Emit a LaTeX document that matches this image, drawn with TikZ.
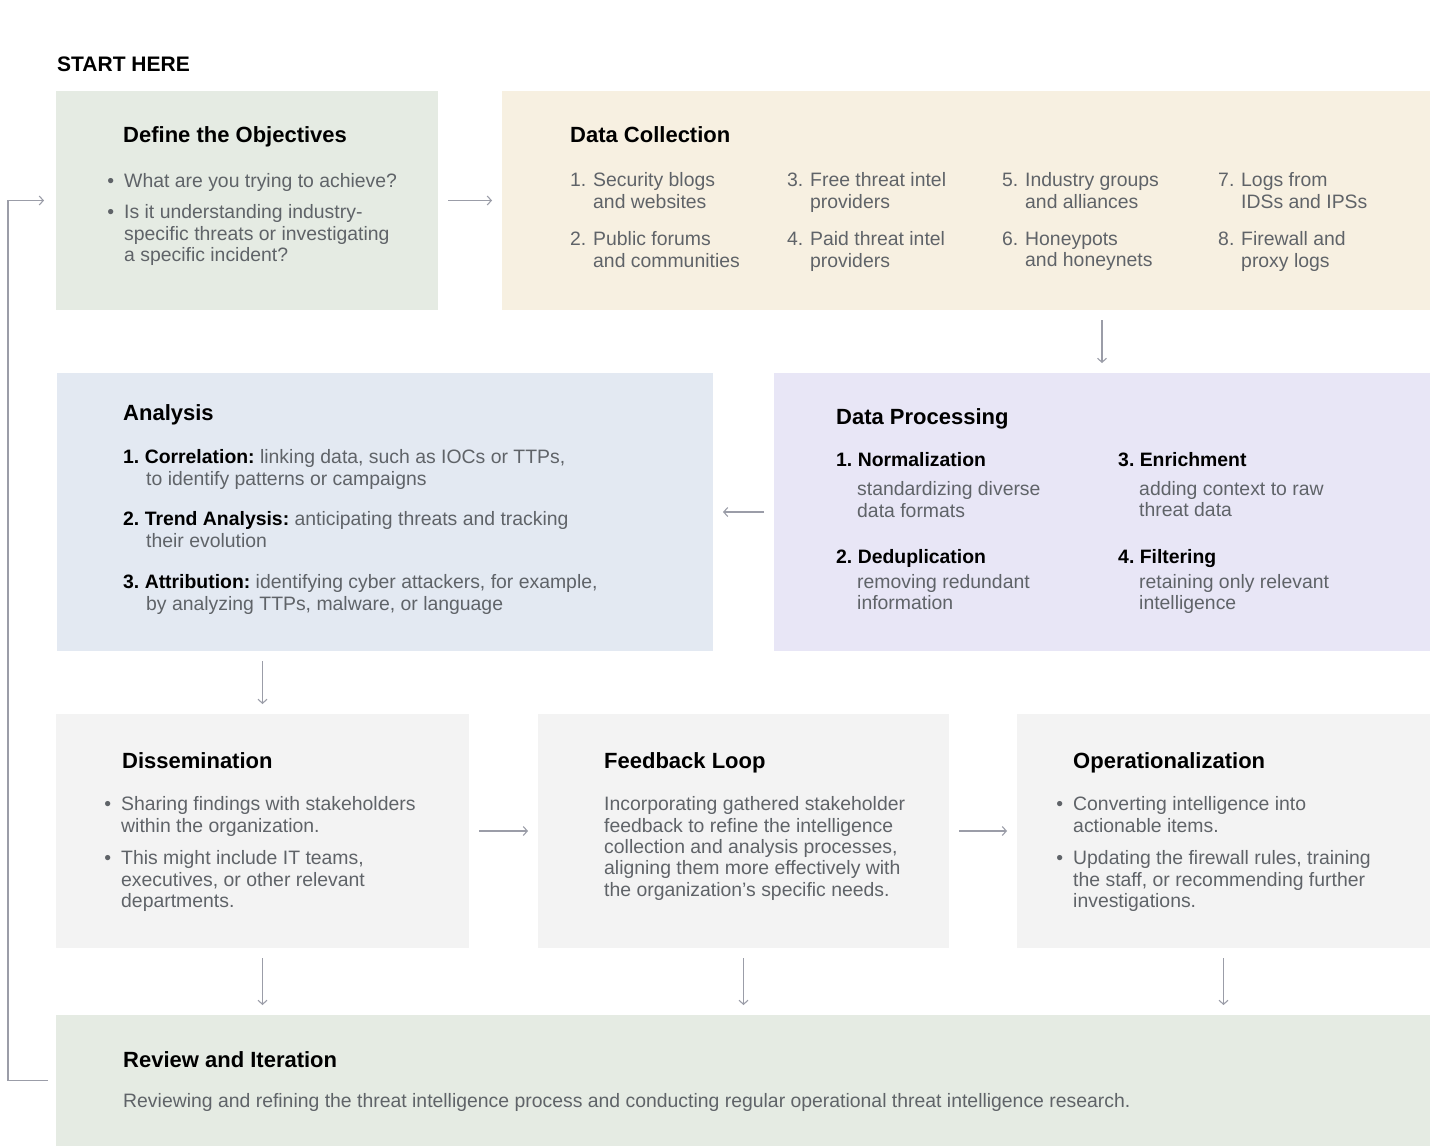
\documentclass[tikz,border=0pt]{standalone}
\usepackage{fontspec}
\setmainfont{Liberation Sans}
\usetikzlibrary{arrows.meta,positioning}

\definecolor{objgreen}{HTML}{E5EBE3}
\definecolor{collcream}{HTML}{F7F0E1}
\definecolor{anablue}{HTML}{E3E9F2}
\definecolor{proclilac}{HTML}{E8E6F6}
\definecolor{stepgray}{HTML}{F3F3F3}
\definecolor{txtgray}{HTML}{5F6368}
\definecolor{arrgray}{HTML}{9B9DA8}

\newcommand{\nr}[1]{\makebox[23pt][l]{#1}}
\newcommand{\ind}{\hspace*{23pt}}
\newcommand{\subind}{\hspace*{21pt}}
\newcommand{\bul}{\llap{•\hspace{10pt}}}
\newcommand{\hd}[1]{{\color{black}\bfseries #1}}

\begin{document}
\frenchspacing
\begin{tikzpicture}
    [x=1pt, y=-1pt,
    box/.style={anchor=north west, inner sep=0pt, outer sep=0pt},
    title/.style={anchor=base west, inner sep=0pt, text=black,
        font=\fontsize{22}{26}\selectfont\bfseries},
    body/.style={anchor=north west, inner sep=0pt, align=left, text=txtgray,
        font=\fontsize{19.4}{21.3}\selectfont, execute at begin node=\strut},
    flow/.style={draw=arrgray, line width=1.1pt,
        -{Straight Barb[length=4pt,width=9pt]},
        shorten <=10pt, shorten >=10pt}
    ]
    \fill[white] (0,0) rectangle (1440,1146);
    \useasboundingbox (0,0) rectangle (1440,1146);

    \node[anchor=base west, inner sep=0pt, font=\fontsize{21}{25}\selectfont\bfseries] (start) at (57,71.5) {START HERE};

    % first row
    \node[box, fill=objgreen, minimum width=382, minimum height=219] (obj) at (56,91) {};
    \node[title] (objtitle) at (123,142) {Define the Objectives};
    \node[body] (obj1) at (124,172.6) {\bul What are you trying to achieve?};
    \node[body] (obj2) at (124,204.6) {\bul Is it understanding industry-\\specific threats or investigating\\a specific incident?};

    \node[box, fill=collcream, minimum width=928, minimum height=219] (dc) at (502,91) {};
    \node[title] (dctitle) at (570,142) {Data Collection};
    \node[body] (dc1) at (570,172.6) {\nr{1.}Security blogs\\\ind and websites};
    \node[body] (dc2) at (570,231.6) {\nr{2.}Public forums\\\ind and communities};
    \node[body] (dc3) at (787,172.6) {\nr{3.}Free threat intel\\\ind providers};
    \node[body] (dc4) at (787,231.6) {\nr{4.}Paid threat intel\\\ind providers};
    \node[body] (dc5) at (1002,172.6) {\nr{5.}Industry groups\\\ind and alliances};
    \node[body] (dc6) at (1002,231.6) {\nr{6.}Honeypots\\\ind and honeynets};
    \node[body] (dc7) at (1218,172.6) {\nr{7.}Logs from\\\ind IDSs and IPSs};
    \node[body] (dc8) at (1218,231.6) {\nr{8.}Firewall and\\\ind proxy logs};

    % second row
    \node[box, fill=anablue, minimum width=656, minimum height=278] (ana) at (57,373) {};
    \node[title] (anatitle) at (123,420) {Analysis};
    \node[body] (ana1) at (123,449.6) {\hd{1. Correlation:} linking data, such as IOCs or TTPs,\\\ind to identify patterns or campaigns};
    \node[body] (ana2) at (123,511.6) {\hd{2. Trend Analysis:} anticipating threats and tracking\\\ind their evolution};
    \node[body] (ana3) at (123,574.6) {\hd{3. Attribution:} identifying cyber attackers, for example,\\\ind by analyzing TTPs, malware, or language};

    \node[box, fill=proclilac, minimum width=656, minimum height=278] (dp) at (774,373) {};
    \node[title] (dptitle) at (836,424) {Data Processing};
    \node[body] (dp1) at (836,452.6) {\hd{1. Normalization}\\[7pt]\subind standardizing diverse\\[1pt]\subind data formats};
    \node[body] (dp2) at (836,549.6) {\hd{2. Deduplication}\\[3pt]\subind removing redundant\\\subind information};
    \node[body] (dp3) at (1118,452.6) {\hd{3. Enrichment}\\[7pt]\subind adding context to raw\\\subind threat data};
    \node[body] (dp4) at (1118,549.6) {\hd{4. Filtering}\\[3pt]\subind retaining only relevant\\\subind intelligence};

    % third row
    \node[box, fill=stepgray, minimum width=413, minimum height=234] (diss) at (56,714) {};
    \node[title] (disstitle) at (122,768) {Dissemination};
    \node[body] (diss1) at (121,796.6) {\bul Sharing findings with stakeholders\\within the organization.};
    \node[body] (diss2) at (121,850.6) {\bul This might include IT teams,\\executives, or other relevant\\departments.};

    \node[box, fill=stepgray, minimum width=411, minimum height=234] (fb) at (538,714) {};
    \node[title] (fbtitle) at (604,768) {Feedback Loop};
    \node[body] (fb1) at (604,796.6) {Incorporating gathered stakeholder\\feedback to refine the intelligence\\collection and analysis processes,\\aligning them more effectively with\\the organization's specific needs.};

    \node[box, fill=stepgray, minimum width=413, minimum height=234] (op) at (1017,714) {};
    \node[title] (optitle) at (1073,768) {Operationalization};
    \node[body] (op1) at (1073,796.6) {\bul Converting intelligence into\\actionable items.};
    \node[body] (op2) at (1073,850.6) {\bul Updating the firewall rules, training\\the staff, or recommending further\\investigations.};

    % last row
    \node[box, fill=objgreen, minimum width=1374, minimum height=131] (rev) at (56,1015) {};
    \node[title] (revtitle) at (123,1067) {Review and Iteration};
    \node[body] (rev1) at (123,1092.6) {Reviewing and refining the threat intelligence process and conducting regular operational threat intelligence research.};

    % connectors
    \draw[flow] (obj.east) -- (dc.west);
    \draw[flow] (dp.north |- dc.south) -- (dp.north);
    \draw[flow] (dp.west) -- (ana.east);
    \draw[flow] (diss.north |- ana.south) -- (diss.north);
    \draw[flow] (diss.east) -- (fb.west);
    \draw[flow] (fb.east) -- (op.west);
    \draw[flow] (diss.south) -- (diss.south |- rev.north);
    \draw[flow] (fb.south) -- (fb.south |- rev.north);
    \draw[flow] (op.south) -- (op.south |- rev.north);
    \draw[flow, shorten <=8pt, shorten >=12pt] (rev.west) -- ++(-48,0) |- (obj.west);
\end{tikzpicture}
\end{document}
